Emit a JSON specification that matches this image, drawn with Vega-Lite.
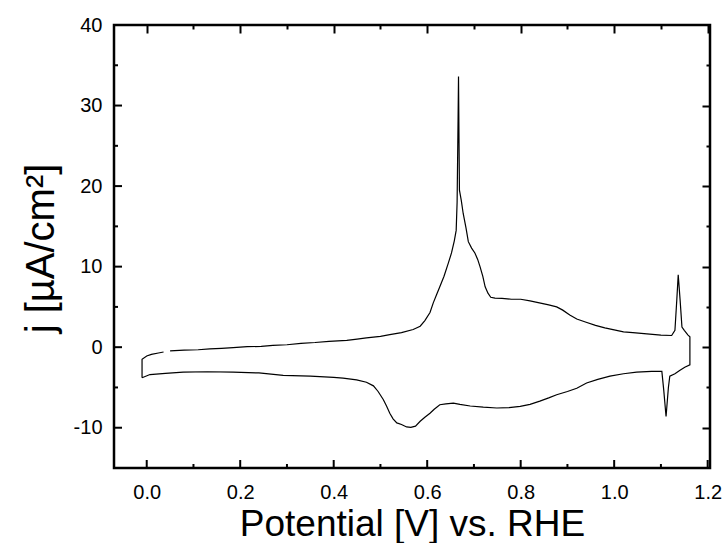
{
  "$schema": "https://vega.github.io/schema/vega-lite/v6.json",
  "autosize": "none",
  "width": 596,
  "height": 443,
  "padding": {"left": 114, "top": 25, "right": 17, "bottom": 75},
  "background": "white",
  "config": {
    "view": {"stroke": "black", "strokeWidth": 2.5},
    "font": "Liberation Sans",
    "axis": {
      "domain": false,
      "grid": false,
      "zindex": 1,
      "tickColor": "black",
      "tickOpacity": 1,
      "tickWidth": 2,
      "labelColor": "black",
      "labelFont": "Liberation Sans",
      "labelFontSize": 20,
      "titleFont": "Liberation Sans",
      "titleFontWeight": "normal",
      "titleColor": "black",
      "titleFontSize": 37
    }
  },
  "datasets": {
    "xmajor": [{"t": 0}, {"t": 0.2}, {"t": 0.4}, {"t": 0.6}, {"t": 0.8}, {"t": 1.0}, {"t": 1.2}],
    "xminor": [{"t": 0.1}, {"t": 0.3}, {"t": 0.5}, {"t": 0.7}, {"t": 0.9}, {"t": 1.1}],
    "ymajor": [{"t": -10}, {"t": 0}, {"t": 10}, {"t": 20}, {"t": 30}],
    "yminor": [{"t": -5}, {"t": 5}, {"t": 15}, {"t": 25}, {"t": 35}],
    "cv": [
      {"i": 1, "v": -0.010, "j": -3.8},
      {"i": 2, "v": -0.010, "j": -1.5},
      {"i": 3, "v": 0.000, "j": -1.1},
      {"i": 4, "v": 0.010, "j": -0.9},
      {"i": 5, "v": 0.025, "j": -0.72},
      {"i": 6, "v": 0.036, "j": -0.6},
      {"i": 7, "v": 0.043, "j": null},
      {"i": 8, "v": 0.050, "j": -0.45},
      {"i": 9, "v": 0.080, "j": -0.36},
      {"i": 10, "v": 0.110, "j": -0.32},
      {"i": 11, "v": 0.135, "j": -0.22},
      {"i": 12, "v": 0.160, "j": -0.15},
      {"i": 13, "v": 0.185, "j": -0.05},
      {"i": 14, "v": 0.215, "j": 0.06},
      {"i": 15, "v": 0.245, "j": 0.1},
      {"i": 16, "v": 0.270, "j": 0.22},
      {"i": 17, "v": 0.300, "j": 0.3},
      {"i": 18, "v": 0.330, "j": 0.48},
      {"i": 19, "v": 0.360, "j": 0.58},
      {"i": 20, "v": 0.390, "j": 0.72},
      {"i": 21, "v": 0.428, "j": 0.85},
      {"i": 22, "v": 0.450, "j": 1.0},
      {"i": 23, "v": 0.470, "j": 1.15},
      {"i": 24, "v": 0.500, "j": 1.35},
      {"i": 25, "v": 0.520, "j": 1.55},
      {"i": 26, "v": 0.545, "j": 1.8},
      {"i": 27, "v": 0.570, "j": 2.2},
      {"i": 28, "v": 0.585, "j": 2.6},
      {"i": 29, "v": 0.595, "j": 3.3},
      {"i": 30, "v": 0.606, "j": 4.3},
      {"i": 31, "v": 0.613, "j": 5.5},
      {"i": 32, "v": 0.620, "j": 6.5},
      {"i": 33, "v": 0.627, "j": 7.5},
      {"i": 34, "v": 0.636, "j": 8.8},
      {"i": 35, "v": 0.645, "j": 10.4},
      {"i": 36, "v": 0.652, "j": 11.7},
      {"i": 37, "v": 0.658, "j": 13.2},
      {"i": 38, "v": 0.662, "j": 14.5},
      {"i": 39, "v": 0.664, "j": 18.0},
      {"i": 40, "v": 0.666, "j": 28.0},
      {"i": 41, "v": 0.667, "j": 33.6},
      {"i": 42, "v": 0.668, "j": 26.0},
      {"i": 43, "v": 0.669, "j": 19.5},
      {"i": 44, "v": 0.673, "j": 18.2},
      {"i": 45, "v": 0.677, "j": 16.6},
      {"i": 46, "v": 0.683, "j": 14.8},
      {"i": 47, "v": 0.688, "j": 13.1},
      {"i": 48, "v": 0.695, "j": 12.3},
      {"i": 49, "v": 0.702, "j": 11.7},
      {"i": 50, "v": 0.708, "j": 10.9},
      {"i": 51, "v": 0.713, "j": 10.0},
      {"i": 52, "v": 0.719, "j": 8.8},
      {"i": 53, "v": 0.724, "j": 7.5},
      {"i": 54, "v": 0.730, "j": 6.7},
      {"i": 55, "v": 0.736, "j": 6.2},
      {"i": 56, "v": 0.745, "j": 6.1},
      {"i": 57, "v": 0.760, "j": 6.05},
      {"i": 58, "v": 0.780, "j": 5.95},
      {"i": 59, "v": 0.800, "j": 5.95},
      {"i": 60, "v": 0.820, "j": 5.75},
      {"i": 61, "v": 0.840, "j": 5.5},
      {"i": 62, "v": 0.860, "j": 5.25},
      {"i": 63, "v": 0.877, "j": 5.0},
      {"i": 64, "v": 0.890, "j": 4.6},
      {"i": 65, "v": 0.905, "j": 4.0},
      {"i": 66, "v": 0.920, "j": 3.5},
      {"i": 67, "v": 0.940, "j": 3.1},
      {"i": 68, "v": 0.960, "j": 2.7},
      {"i": 69, "v": 0.980, "j": 2.4},
      {"i": 70, "v": 1.000, "j": 2.15},
      {"i": 71, "v": 1.020, "j": 1.9},
      {"i": 72, "v": 1.040, "j": 1.8},
      {"i": 73, "v": 1.070, "j": 1.65},
      {"i": 74, "v": 1.100, "j": 1.5},
      {"i": 75, "v": 1.123, "j": 1.45},
      {"i": 76, "v": 1.130, "j": 2.1},
      {"i": 77, "v": 1.134, "j": 5.9},
      {"i": 78, "v": 1.137, "j": 9.0},
      {"i": 79, "v": 1.141, "j": 5.9},
      {"i": 80, "v": 1.145, "j": 2.5},
      {"i": 81, "v": 1.150, "j": 2.1},
      {"i": 82, "v": 1.158, "j": 1.5},
      {"i": 83, "v": 1.162, "j": 1.3},
      {"i": 84, "v": 1.162, "j": -2.2},
      {"i": 85, "v": 1.151, "j": -2.5},
      {"i": 86, "v": 1.140, "j": -2.9},
      {"i": 87, "v": 1.130, "j": -3.3},
      {"i": 88, "v": 1.119, "j": -3.6},
      {"i": 89, "v": 1.116, "j": -5.0},
      {"i": 90, "v": 1.111, "j": -8.6},
      {"i": 91, "v": 1.106, "j": -5.3},
      {"i": 92, "v": 1.102, "j": -3.0},
      {"i": 93, "v": 1.080, "j": -3.0},
      {"i": 94, "v": 1.048, "j": -3.1},
      {"i": 95, "v": 1.020, "j": -3.3},
      {"i": 96, "v": 0.991, "j": -3.6},
      {"i": 97, "v": 0.965, "j": -4.0},
      {"i": 98, "v": 0.941, "j": -4.45},
      {"i": 99, "v": 0.920, "j": -5.1},
      {"i": 100, "v": 0.900, "j": -5.5},
      {"i": 101, "v": 0.877, "j": -5.9},
      {"i": 102, "v": 0.860, "j": -6.3},
      {"i": 103, "v": 0.841, "j": -6.7},
      {"i": 104, "v": 0.820, "j": -7.1},
      {"i": 105, "v": 0.799, "j": -7.35},
      {"i": 106, "v": 0.775, "j": -7.5},
      {"i": 107, "v": 0.749, "j": -7.55},
      {"i": 108, "v": 0.720, "j": -7.45},
      {"i": 109, "v": 0.692, "j": -7.3},
      {"i": 110, "v": 0.670, "j": -7.1},
      {"i": 111, "v": 0.656, "j": -6.95},
      {"i": 112, "v": 0.640, "j": -7.05},
      {"i": 113, "v": 0.627, "j": -7.15},
      {"i": 114, "v": 0.615, "j": -7.7},
      {"i": 115, "v": 0.606, "j": -8.2},
      {"i": 116, "v": 0.595, "j": -8.7},
      {"i": 117, "v": 0.585, "j": -9.2},
      {"i": 118, "v": 0.575, "j": -9.8},
      {"i": 119, "v": 0.565, "j": -9.95},
      {"i": 120, "v": 0.556, "j": -9.9},
      {"i": 121, "v": 0.545, "j": -9.6},
      {"i": 122, "v": 0.535, "j": -9.4},
      {"i": 123, "v": 0.527, "j": -8.9},
      {"i": 124, "v": 0.520, "j": -8.2},
      {"i": 125, "v": 0.513, "j": -7.3},
      {"i": 126, "v": 0.506, "j": -6.5},
      {"i": 127, "v": 0.495, "j": -5.5},
      {"i": 128, "v": 0.485, "j": -4.8},
      {"i": 129, "v": 0.470, "j": -4.35},
      {"i": 130, "v": 0.449, "j": -4.05},
      {"i": 131, "v": 0.420, "j": -3.85},
      {"i": 132, "v": 0.400, "j": -3.75},
      {"i": 133, "v": 0.350, "j": -3.6},
      {"i": 134, "v": 0.292, "j": -3.5},
      {"i": 135, "v": 0.240, "j": -3.2},
      {"i": 136, "v": 0.185, "j": -3.1},
      {"i": 137, "v": 0.130, "j": -3.05},
      {"i": 138, "v": 0.078, "j": -3.1},
      {"i": 139, "v": 0.040, "j": -3.25},
      {"i": 140, "v": 0.007, "j": -3.4},
      {"i": 141, "v": -0.010, "j": -3.8}
    ]
  },
  "resolve": {"axis": {"x": "independent", "y": "independent"}},
  "layer": [
    {
      "data": {"name": "cv"},
      "mark": {"type": "line", "color": "black", "strokeWidth": 1.2, "clip": true},
      "encoding": {
        "order": {"field": "i", "type": "quantitative"},
        "x": {
          "field": "v", "type": "quantitative",
          "scale": {"domain": [-0.07, 1.205], "nice": false, "zero": false},
          "axis": {
            "orient": "bottom",
            "title": "Potential [V] vs. RHE",
            "titlePadding": 4,
            "values": [0, 0.2, 0.4, 0.6, 0.8, 1.0, 1.2],
            "format": ".1f",
            "ticks": false,
            "labelPadding": 14
          }
        },
        "y": {
          "field": "j", "type": "quantitative",
          "scale": {"domain": [-15, 40], "nice": false, "zero": false},
          "axis": {
            "orient": "left",
            "title": "j [µA/cm²]",
            "titleFontSize": 40,
            "values": [-10, 0, 10, 20, 30, 40],
            "labelExpr": "'' + datum.value",
            "ticks": false,
            "labelPadding": 12,
            "titleX": -73,
            "titleY": 223,
            "titleAngle": -90,
            "titleAlign": "center",
            "titleBaseline": "middle"
          }
        }
      }
    },
    {
      "data": {"name": "cv"},
      "mark": {"type": "line", "strokeOpacity": 0},
      "encoding": {
        "order": {"field": "i", "type": "quantitative"},
        "x": {
          "field": "v", "type": "quantitative",
          "axis": {"orient": "top", "title": null, "labels": false, "offset": -8, "tickSize": 8,
                   "values": [0, 0.2, 0.4, 0.6, 0.8, 1.0, 1.2]}
        },
        "y": {
          "field": "j", "type": "quantitative",
          "axis": {"orient": "right", "title": null, "labels": false, "offset": -8, "tickSize": 8,
                   "values": [-10, 0, 10, 20, 30]}
        }
      }
    },
    {
      "data": {"name": "cv"},
      "mark": {"type": "line", "strokeOpacity": 0},
      "encoding": {
        "order": {"field": "i", "type": "quantitative"},
        "x": {
          "field": "v", "type": "quantitative",
          "axis": {"orient": "top", "title": null, "labels": false, "offset": -4, "tickSize": 4,
                   "values": [0.1, 0.3, 0.5, 0.7, 0.9, 1.1]}
        },
        "y": {
          "field": "j", "type": "quantitative",
          "axis": {"orient": "right", "title": null, "labels": false, "offset": -4, "tickSize": 4,
                   "values": [-5, 5, 15, 25, 35]}
        }
      }
    },
    {
      "data": {"name": "xmajor"},
      "mark": {"type": "tick", "orient": "vertical", "size": 16, "thickness": 2, "color": "black", "opacity": 1, "clip": true},
      "encoding": {
        "x": {"field": "t", "type": "quantitative", "axis": null},
        "y": {"datum": -15, "type": "quantitative", "axis": null}
      }
    },
    {
      "data": {"name": "xminor"},
      "mark": {"type": "tick", "orient": "vertical", "size": 8, "thickness": 2, "color": "black", "opacity": 1, "clip": true},
      "encoding": {
        "x": {"field": "t", "type": "quantitative", "axis": null},
        "y": {"datum": -15, "type": "quantitative", "axis": null}
      }
    },
    {
      "data": {"name": "ymajor"},
      "mark": {"type": "tick", "orient": "horizontal", "size": 16, "thickness": 2, "color": "black", "opacity": 1, "clip": true},
      "encoding": {
        "y": {"field": "t", "type": "quantitative", "axis": null},
        "x": {"datum": -0.07, "type": "quantitative", "axis": null}
      }
    },
    {
      "data": {"name": "yminor"},
      "mark": {"type": "tick", "orient": "horizontal", "size": 8, "thickness": 2, "color": "black", "opacity": 1, "clip": true},
      "encoding": {
        "y": {"field": "t", "type": "quantitative", "axis": null},
        "x": {"datum": -0.07, "type": "quantitative", "axis": null}
      }
    }
  ]
}
